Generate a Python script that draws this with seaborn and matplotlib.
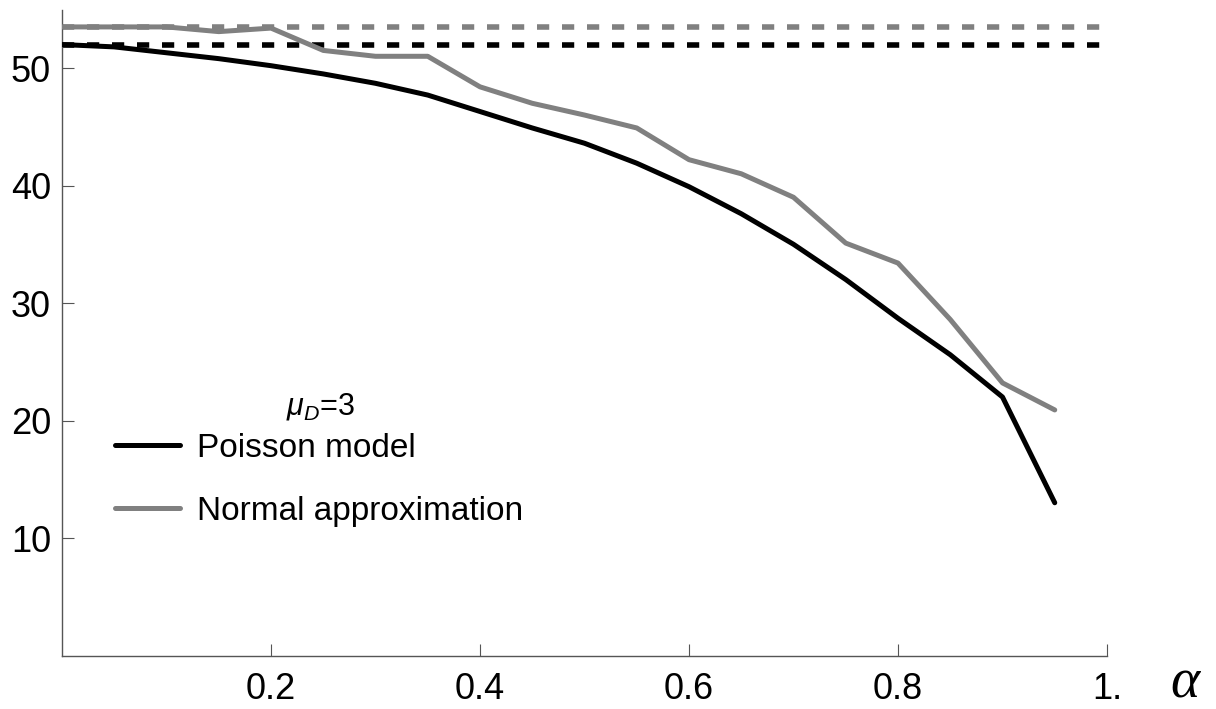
import matplotlib
matplotlib.use("Agg")
import matplotlib.pyplot as plt
import seaborn as sns
import pandas as pd
from matplotlib.lines import Line2D

alpha = [0.0, 0.05, 0.1, 0.15, 0.2, 0.25, 0.3, 0.35, 0.4, 0.45,
         0.5, 0.55, 0.6, 0.65, 0.7, 0.75, 0.8, 0.85, 0.9, 0.95]
poisson = [52.0, 51.8, 51.3, 50.8, 50.2, 49.5, 48.7, 47.7, 46.3, 44.9,
           43.6, 41.9, 39.9, 37.6, 35.0, 32.0, 28.7, 25.6, 22.0, 13.0]
normal = [53.5, 53.5, 53.5, 53.1, 53.4, 51.5, 51.0, 51.0, 48.4, 47.0,
          46.0, 44.9, 42.2, 41.0, 39.0, 35.1, 33.4, 28.6, 23.2, 20.9]
poisson_limit = 52.0
normal_limit = 53.5
series_names = ["Poisson model", "Normal approximation"]
xtick_vals = [0.2, 0.4, 0.6, 0.8, 1.0]
xtick_labels = ["0.2", "0.4", "0.6", "0.8", "1."]
ytick_vals = [10, 20, 30, 40, 50]
ytick_labels = ["10", "20", "30", "40", "50"]

sns.set_theme(style="white")
plt.rcParams["font.family"] = ["Liberation Sans", "DejaVu Sans"]
plt.rcParams["mathtext.fontset"] = "custom"
plt.rcParams["mathtext.it"] = "Liberation Sans:italic"
plt.rcParams["mathtext.rm"] = "Liberation Sans"

df = pd.DataFrame({
    "alpha": alpha * 2,
    "value": poisson + normal,
    "model": [series_names[0]] * len(alpha) + [series_names[1]] * len(alpha),
})

fig = plt.figure(figsize=(12.16, 7.09), dpi=100)
ax = fig.add_axes([62 / 1216, 1 - 655.5 / 709, (1107 - 62) / 1216, (655.5 - 10) / 709])

colors = {series_names[0]: "#000000", series_names[1]: "#808080"}
ax.axhline(normal_limit, color="#808080", lw=4.0, ls=(0, (2.2, 2.3)), zorder=2)
ax.axhline(poisson_limit, color="#000000", lw=4.0, ls=(0, (2.2, 2.3)), zorder=2)
sns.lineplot(data=df, x="alpha", y="value", hue="model", palette=colors,
             linewidth=3.6, ax=ax, legend=False, zorder=3)

ax.set_xlim(0, 1)
ax.set_ylim(0, 54.94)
ax.set_xticks(xtick_vals)
ax.set_xticklabels(xtick_labels)
ax.set_yticks(ytick_vals)
ax.set_yticklabels(ytick_labels)
ax.set_xlabel("")
ax.set_ylabel("")

for side in ["top", "right"]:
    ax.spines[side].set_visible(False)
for side in ["left", "bottom"]:
    ax.spines[side].set_color("#555555")
    ax.spines[side].set_linewidth(1.0)

ax.tick_params(axis="both", direction="in", length=8.6, width=0.8,
               color="#555555", labelsize=26, labelcolor="black",
               bottom=True, left=True)
ax.tick_params(axis="x", pad=12)
ax.tick_params(axis="y", pad=8)

handles = [Line2D([0], [0], color=colors[n], lw=3.6) for n in series_names]
leg = ax.legend(handles, series_names, frameon=False,
                loc="center", bbox_to_anchor=(319 / 1216, 1 - 480 / 709),
                bbox_transform=fig.transFigure, fontsize=24,
                handlelength=1.95, handletextpad=0.5, labelspacing=0.95,
                borderpad=0.0, labelcolor="black")

fig.text(321 / 1216, 1 - 407 / 709, r"$\mu_D$=3", fontsize=22, color="black",
         ha="center", va="center")

fig.text(1185 / 1216, 1 - 684 / 709, "α", fontsize=40, family="Liberation Serif",
         style="italic", ha="center", va="center", color="black")

fig.savefig("out.png", dpi=100)
